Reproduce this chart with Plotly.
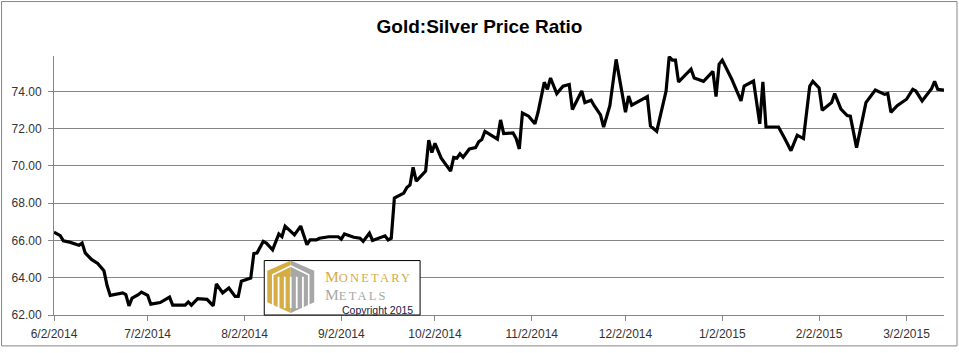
import plotly.graph_objects as go

# ---- data ----
dates = [
    "2014-06-02", "2014-06-04", "2014-06-05", "2014-06-07", "2014-06-10", "2014-06-11", "2014-06-12",
    "2014-06-14", "2014-06-16", "2014-06-18", "2014-06-19", "2014-06-20", "2014-06-24", "2014-06-25",
    "2014-06-26", "2014-06-27", "2014-06-29", "2014-06-30", "2014-07-02", "2014-07-03", "2014-07-06",
    "2014-07-09", "2014-07-10", "2014-07-14", "2014-07-15", "2014-07-16", "2014-07-18", "2014-07-21",
    "2014-07-23", "2014-07-24", "2014-07-26", "2014-07-28", "2014-07-30", "2014-07-31", "2014-08-01",
    "2014-08-04", "2014-08-05", "2014-08-06", "2014-08-08", "2014-08-09", "2014-08-11", "2014-08-13",
    "2014-08-14", "2014-08-15", "2014-08-18", "2014-08-20", "2014-08-22", "2014-08-23", "2014-08-25",
    "2014-08-26", "2014-08-29", "2014-09-01", "2014-09-02", "2014-09-03", "2014-09-06", "2014-09-08",
    "2014-09-09", "2014-09-11", "2014-09-12", "2014-09-16", "2014-09-17", "2014-09-18", "2014-09-19",
    "2014-09-22", "2014-09-23", "2014-09-24", "2014-09-25", "2014-09-26", "2014-09-29", "2014-09-30",
    "2014-10-01", "2014-10-02", "2014-10-04", "2014-10-07", "2014-10-08", "2014-10-09", "2014-10-10",
    "2014-10-11", "2014-10-13", "2014-10-15", "2014-10-16", "2014-10-17", "2014-10-18", "2014-10-22",
    "2014-10-23", "2014-10-24", "2014-10-27", "2014-10-28", "2014-10-29", "2014-10-30", "2014-11-01",
    "2014-11-03", "2014-11-04", "2014-11-06", "2014-11-07", "2014-11-08", "2014-11-10", "2014-11-12",
    "2014-11-14", "2014-11-15", "2014-11-18", "2014-11-19", "2014-11-21", "2014-11-22", "2014-11-24",
    "2014-11-25", "2014-11-27", "2014-11-29", "2014-12-02", "2014-12-03", "2014-12-04", "2014-12-09",
    "2014-12-10", "2014-12-11", "2014-12-12", "2014-12-15", "2014-12-16", "2014-12-17", "2014-12-18",
    "2014-12-19", "2014-12-23", "2014-12-24", "2014-12-25", "2014-12-27", "2014-12-30", "2014-12-31",
    "2015-01-01", "2015-01-02", "2015-01-05", "2015-01-08", "2015-01-09", "2015-01-12", "2015-01-14",
    "2015-01-15", "2015-01-16", "2015-01-20", "2015-01-22", "2015-01-24", "2015-01-26", "2015-01-28",
    "2015-01-30", "2015-01-31", "2015-02-02", "2015-02-03", "2015-02-06", "2015-02-07", "2015-02-09",
    "2015-02-11", "2015-02-12", "2015-02-14", "2015-02-17", "2015-02-20", "2015-02-23", "2015-02-24",
    "2015-02-25", "2015-02-27", "2015-03-02", "2015-03-04", "2015-03-05", "2015-03-07", "2015-03-10",
    "2015-03-11", "2015-03-12", "2015-03-14",
]

ratio = [
    66.44, 66.26, 65.98, 65.91, 65.74, 65.86, 65.33,
    64.98, 64.77, 64.37, 63.58, 63.05, 63.19, 63.10,
    62.49, 62.91, 63.09, 63.23, 63.05, 62.58, 62.67,
    62.96, 62.53, 62.53, 62.70, 62.53, 62.88, 62.84,
    62.49, 63.67, 63.19, 63.45, 63.00, 63.00, 63.81,
    63.98, 65.30, 65.33, 65.95, 65.86, 65.50, 66.35,
    66.20, 66.77, 66.30, 66.77, 65.77, 66.03, 66.03,
    66.12, 66.20, 66.20, 66.07, 66.35, 66.17, 66.12,
    65.95, 66.39, 66.00, 66.25, 66.03, 66.12, 68.28,
    68.54, 68.84, 68.98, 69.93, 69.19, 69.72, 71.38,
    70.72, 71.21, 70.42, 69.72, 70.46, 70.42, 70.65,
    70.47, 70.91, 70.98, 71.30, 71.42, 71.86, 71.44,
    72.47, 71.74, 71.77, 71.47, 70.91, 72.84, 72.67,
    72.26, 72.88, 74.49, 74.11, 74.72, 73.88, 74.28,
    74.37, 73.03, 74.02, 73.40, 73.53, 73.23, 72.74,
    72.09, 73.23, 75.72, 72.88, 73.75, 73.26, 73.72,
    72.14, 72.00, 71.86, 74.02, 75.86, 75.68, 75.68,
    74.51, 75.19, 74.72, 74.67, 74.54, 75.07, 73.72,
    75.47, 75.68, 74.67, 73.49, 74.29, 74.56, 72.26,
    74.51, 72.09, 72.09, 71.47, 70.82, 71.65, 71.47,
    74.28, 74.54, 74.19, 72.99, 73.40, 73.88, 73.05,
    72.70, 72.67, 70.98, 73.40, 74.07, 73.84, 73.89,
    72.88, 73.23, 73.58, 74.11, 74.02, 73.49, 74.14,
    74.54, 74.11, 74.07,
]

x_tick_dates = ["2014-06-02", "2014-07-02", "2014-08-02", "2014-09-02", "2014-10-02",
                "2014-11-02", "2014-12-02", "2015-01-02", "2015-02-02", "2015-03-02"]
x_tick_labels = ["6/2/2014", "7/2/2014", "8/2/2014", "9/2/2014", "10/2/2014",
                 "11/2/2014", "12/2/2014", "1/2/2015", "2/2/2015", "3/2/2015"]
y_tick_values = [62, 64, 66, 68, 70, 72, 74]

TITLE = "Gold:Silver Price Ratio"

# ---- layout geometry ----
W, H = 959, 353
L, R, T, B = 53, 15, 56, 33
PW, PH = W - L - R, H - T - B
GRID = "#868686"
TXT = "#333333"


def px(x):
    return (x - L) / PW


def py(y):
    return (H - B - y) / PH


fig = go.Figure()
fig.add_trace(go.Scatter(
    x=dates, y=ratio, mode="lines",
    line=dict(color="black", width=3.2, shape="linear"),
    hoverinfo="x+y", showlegend=False,
))

shapes = []
# outer chart border
shapes.append(dict(type="rect", xref="paper", yref="paper",
                   x0=px(0.5), x1=px(957), y0=py(0.5), y1=py(351.5),
                   line=dict(color=GRID, width=1), fillcolor="rgba(0,0,0,0)", layer="below"))

# logo box
shapes.append(dict(type="rect", xref="paper", yref="paper",
                   x0=px(263.5), x1=px(419.5), y0=py(264.5), y1=py(320),
                   line=dict(color="black", width=1), fillcolor="white", layer="above"))


def poly(points, fill, line_color=None, width=0):
    d = "M " + " L ".join(f"{px(a):.5f},{py(b):.5f}" for a, b in points)
    shp = dict(type="path", xref="paper", yref="paper", path=d + " Z",
               fillcolor=fill, layer="above",
               line=dict(color=line_color or fill, width=width))
    return shp


def polyline(points, color, width):
    d = "M " + " L ".join(f"{px(a):.5f},{py(b):.5f}" for a, b in points)
    return dict(type="path", xref="paper", yref="paper", path=d,
                layer="above", line=dict(color=color, width=width))


GOLD = "#D6AD45"
SILV = "#A7A7A7"
# hexagon: gold left half, grey right half
shapes.append(poly([(290, 264.5), (266.5, 275), (266.5, 307), (290, 318), ], GOLD))
shapes.append(poly([(290, 264.5), (313.5, 275), (313.5, 307), (290, 318), ], SILV))
# inner white outline forming the "MM"
shapes.append(polyline([(272, 312), (272, 279), (290, 270), (308, 279), (308, 312)], "white", 1.6))
for sx in [277.8, 284.0, 290.0, 296.0, 302.2]:
    shapes.append(polyline([(sx, 313), (sx, 281)], "white", 1.8))

SERIF = "Liberation Serif, DejaVu Serif, serif"
SC = "font-size:12.5px;letter-spacing:2.2px"
annotations = [
    dict(xref="paper", yref="paper", x=px(322), y=py(281), xanchor="left", yanchor="middle",
         text=f"M<span style='{SC}'>ONETARY</span>", showarrow=False,
         font=dict(family=SERIF, size=15.5, color=GOLD)),
    dict(xref="paper", yref="paper", x=px(322), y=py(299), xanchor="left", yanchor="middle",
         text=f"M<span style='{SC}'>ETALS</span>", showarrow=False,
         font=dict(family=SERIF, size=15.5, color=SILV)),
    dict(xref="paper", yref="paper", x=px(414), y=py(314.5), xanchor="right", yanchor="middle",
         text="Copyright 2015", showarrow=False,
         font=dict(family="Liberation Sans, Arial, sans-serif", size=10.5, color="#1a1a40")),
]

fig.update_layout(
    width=W, height=H,
    margin=dict(l=L, r=R, t=T, b=B),
    paper_bgcolor="white", plot_bgcolor="white",
    title=dict(text="<b>" + TITLE + "</b>", x=0.5, xanchor="center",
               yref="container", y=1 - 26 / H, yanchor="middle",
               font=dict(family="Liberation Sans, Arial, sans-serif", size=19, color="black")),
    shapes=shapes,
    annotations=annotations,
    showlegend=False,
)

fig.update_xaxes(
    type="date", range=["2014-06-02", "2015-03-14"],
    tickvals=x_tick_dates, ticktext=x_tick_labels,
    ticks="outside", ticklen=5, tickcolor=GRID, tickwidth=1,
    showline=True, linecolor=GRID, linewidth=1,
    showgrid=False, zeroline=False,
    tickfont=dict(family="Liberation Sans, Arial, sans-serif", size=12, color=TXT),
    ticklabelstandoff=3,
)
fig.update_yaxes(
    range=[62, 75.9], tickvals=y_tick_values, tickformat=".2f",
    ticks="outside", ticklen=5, tickcolor=GRID, tickwidth=1,
    showline=True, linecolor=GRID, linewidth=1,
    showgrid=True, gridcolor=GRID, gridwidth=1, zeroline=False,
    tickfont=dict(family="Liberation Sans, Arial, sans-serif", size=12, color=TXT),
    ticklabelstandoff=4,
)

fig.write_html("out.html")
